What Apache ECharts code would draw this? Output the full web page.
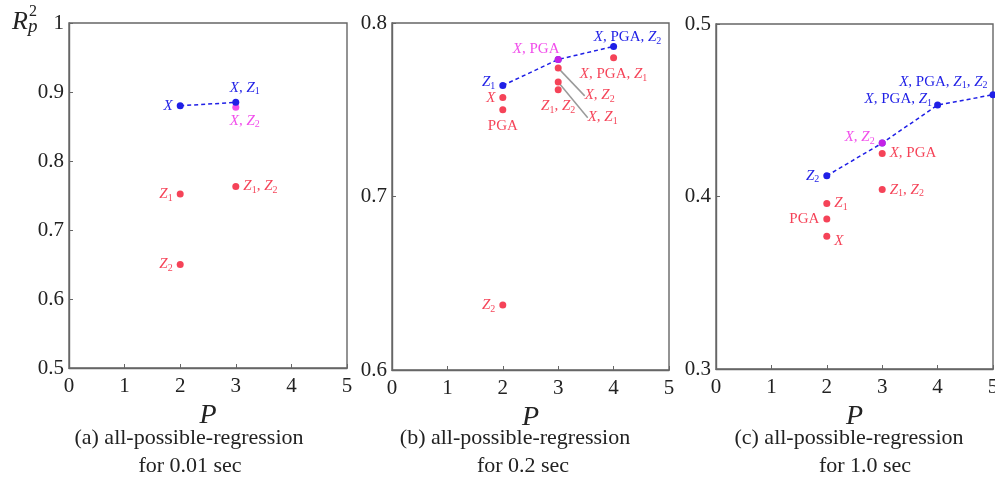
<!DOCTYPE html>
<html>
<head>
<meta charset="utf-8">
<script src="https://cdn.jsdelivr.net/npm/echarts@6/dist/echarts.min.js"></script>
<style>
html, body { margin: 0; padding: 0; background: #fff; }
#container { width: 995px; height: 487px; }
</style>
</head>
<body>
<div id="container"></div>
<script>
// (a) 0.01 sec
var aLineP = [2, 3];
var aLineR2 = [0.880, 0.885];
var aLineNames = ['X', 'X,Z1'];
var aPickP = [3];
var aPickR2 = [0.878];
var aPickNames = ['X,Z2'];
var aOtherP = [2, 3, 2];
var aOtherR2 = [0.752, 0.763, 0.650];
var aOtherNames = ['Z1', 'Z1,Z2', 'Z2'];

// (b) 0.2 sec
var bLineP = [2, 3, 4];
var bLineR2 = [0.764, 0.779, 0.7865];
var bLineNames = ['Z1', '', 'X,PGA,Z2'];
var bPickP = [3];
var bPickR2 = [0.779];
var bPickNames = ['X,PGA'];
var bOtherP = [2, 2, 3, 3, 3, 4, 2];
var bOtherR2 = [0.757, 0.750, 0.774, 0.766, 0.7615, 0.780, 0.6375];
var bOtherNames = ['X', 'PGA', 'X,Z2', 'X,Z1', 'Z1,Z2', 'X,PGA,Z1', 'Z2'];

// (c) 1.0 sec
var cLineP = [2, 3, 4, 5];
var cLineR2 = [0.412, 0.431, 0.453, 0.459];
var cLineNames = ['Z2', '', 'X,PGA,Z1', 'X,PGA,Z1,Z2'];
var cPickP = [3];
var cPickR2 = [0.431];
var cPickNames = ['X,Z2'];
var cOtherP = [2, 2, 2, 3, 3];
var cOtherR2 = [0.396, 0.387, 0.377, 0.425, 0.404];
var cOtherNames = ['Z1', 'PGA', 'X', 'X,PGA', 'Z1,Z2'];

var yMin = [0.5, 0.6, 0.3];
var yMax = [1.0, 0.8, 0.5];
var captionTop = ['(a) all-possible-regression', '(b) all-possible-regression', '(c) all-possible-regression'];
var captionBottom = ['for 0.01 sec', 'for 0.2 sec', 'for 1.0 sec'];

// label placement (style only)
var aLineLab = [{position: 'left'}, {position: 'top', offset: [9, 2]}];
var aPickLab = [{position: 'bottom', offset: [9, -3]}];
var aOtherLab = [{position: 'left'}, {position: 'right'}, {position: 'left'}];
var bLineLab = [{position: 'left', offset: [0, -3]}, {}, {position: 'top', offset: [14, 7]}];
var bPickLab = [{position: 'top', offset: [-22, 6]}];
var bOtherLab = [{position: 'left'}, {position: 'bottom', offset: [0, -2]}, {position: 'right'}, {position: 'right'},
  {position: 'bottom', offset: [-18, -6]}, {position: 'bottom', offset: [14, -5]}, {position: 'left'}];
var cLineLab = [{position: 'left'}, {}, {position: 'left', offset: [2, -6]}, {position: 'left', offset: [2, -13]}];
var cPickLab = [{position: 'left', offset: [0, -6]}];
var cOtherLab = [{position: 'right'}, {position: 'left'}, {position: 'right', offset: [0, 5]}, {position: 'right'}, {position: 'right'}];

var BLUE = '#1f1fe6', MAG = '#ee22e6', RED = '#f2142e';
var SERIF = '"Liberation Serif", "DejaVu Serif", serif';

var dom = document.getElementById('container');
var myChart = echarts.init(dom);

function fmt(name) {
    if (!name) return '';
    return name.split(',').map(function (t) {
        if (t === 'PGA') return '{r|PGA}';
        if (t === 'X') return '{i|X}';
        return '{i|Z}{s|' + t.slice(1) + '}';
    }).join('{r|, }');
}

var rich = {
    r: {fontFamily: SERIF, fontSize: 15, lineHeight: 18},
    i: {fontFamily: SERIF, fontSize: 15, fontStyle: 'italic', lineHeight: 18},
    s: {fontFamily: SERIF, fontSize: 10, lineHeight: 10, verticalAlign: 'bottom'}
};

function pts(P, R2, names, labs) {
    return P.map(function (p, i) {
        return {value: [p, R2[i]], name: names[i], label: labs[i]};
    });
}

function labelOpt(color) {
    return {show: true, color: color, distance: 4, formatter: function (p) { return fmt(p.name); }, rich: rich};
}

var grids = [
    {left: 69, top: 23, width: 278, height: 345},
    {left: 392, top: 23, width: 277, height: 347},
    {left: 716, top: 24, width: 277, height: 345}
];

var xAxes = [], yAxes = [], series = [];
grids.forEach(function (g, k) {
    g.show = true;
    g.borderColor = '#666';
    g.borderWidth = 1.4;
    g.containLabel = false;
    g.outerBoundsMode = 'none';
    xAxes.push({
        type: 'value', gridIndex: k, min: 0, max: 5, interval: 1,
        name: 'P', nameLocation: 'middle', nameGap: 22,
        nameTextStyle: {fontFamily: SERIF, fontStyle: 'italic', fontSize: 28, color: '#222'},
        axisLine: {lineStyle: {color: '#666', width: 1.4}},
        axisTick: {inside: true, length: 4, lineStyle: {color: '#666'}},
        axisLabel: {fontFamily: SERIF, fontSize: 21, color: '#222', margin: 8},
        splitLine: {show: false}
    });
    yAxes.push({
        type: 'value', gridIndex: k, min: yMin[k], max: yMax[k], interval: 0.1,
        axisLine: {lineStyle: {color: '#666', width: 1.4}},
        axisTick: {inside: true, length: 4, lineStyle: {color: '#666'}},
        axisLabel: {fontFamily: SERIF, fontSize: 21, color: '#222', margin: 5,
            formatter: function (v) { return Math.abs(v - 1) < 1e-6 ? '1' : v.toFixed(1); }},
        splitLine: {show: false}
    });
});

var panels = [
    [aLineP, aLineR2, aLineNames, aLineLab, aPickP, aPickR2, aPickNames, aPickLab, aOtherP, aOtherR2, aOtherNames, aOtherLab, 3],
    [bLineP, bLineR2, bLineNames, bLineLab, bPickP, bPickR2, bPickNames, bPickLab, bOtherP, bOtherR2, bOtherNames, bOtherLab, 6],
    [cLineP, cLineR2, cLineNames, cLineLab, cPickP, cPickR2, cPickNames, cPickLab, cOtherP, cOtherR2, cOtherNames, cOtherLab, 6]
];

panels.forEach(function (d, k) {
    var red = {
        type: 'scatter', xAxisIndex: k, yAxisIndex: k, symbolSize: 7, z: 2,
        itemStyle: {color: RED}, label: labelOpt(RED),
        data: pts(d[8], d[9], d[10], d[11])
    };
    if (k === 1) {
        red.data[2].labelLine = {show: true, lineStyle: {color: '#9a9a9a', width: 1.5}};
        red.data[3].labelLine = {show: true, lineStyle: {color: '#9a9a9a', width: 1.5}};
        red.labelLayout = function (p) {
            if (p.dataIndex === 2) return {dx: 19, dy: 27};
            if (p.dataIndex === 3) return {dx: 22, dy: 35};
            return {};
        };
    }
    series.push(red);
    series.push({
        type: 'line', xAxisIndex: k, yAxisIndex: k, symbol: 'circle', symbolSize: 7, z: 4,
        lineStyle: {color: BLUE, width: 1.5, type: [4, 3]},
        itemStyle: {color: BLUE}, label: labelOpt(BLUE),
        data: pts(d[0], d[1], d[2], d[3])
    });
    series.push({
        type: 'scatter', xAxisIndex: k, yAxisIndex: k, symbolSize: 7, z: d[12],
        itemStyle: {color: MAG}, label: labelOpt(MAG),
        data: pts(d[4], d[5], d[6], d[7])
    });
});

var capX1 = [189, 515, 849], capX2 = [190, 523, 865];
var graphics = [
    {type: 'text', x: 12, y: 22, style: {text: 'R', font: 'italic 26px ' + SERIF, fill: '#222', textVerticalAlign: 'middle'}},
    {type: 'text', x: 29, y: 12, style: {text: '2', font: '16px ' + SERIF, fill: '#222', textVerticalAlign: 'middle'}},
    {type: 'text', x: 28, y: 27, style: {text: 'p', font: 'italic 19px ' + SERIF, fill: '#222', textVerticalAlign: 'middle'}}
];
for (var k = 0; k < 3; k++) {
    graphics.push({type: 'text', x: capX1[k], y: 438, style: {text: captionTop[k], font: '22px ' + SERIF, fill: '#222', textAlign: 'center', textVerticalAlign: 'middle'}});
    graphics.push({type: 'text', x: capX2[k], y: 466, style: {text: captionBottom[k], font: '22px ' + SERIF, fill: '#222', textAlign: 'center', textVerticalAlign: 'middle'}});
}

option = {
    animation: false,
    backgroundColor: '#fff',
    grid: grids,
    xAxis: xAxes,
    yAxis: yAxes,
    series: series,
    graphic: graphics
};

if (option && typeof option === 'object') {
    myChart.setOption(option, false);
}
</script>
</body>
</html>
